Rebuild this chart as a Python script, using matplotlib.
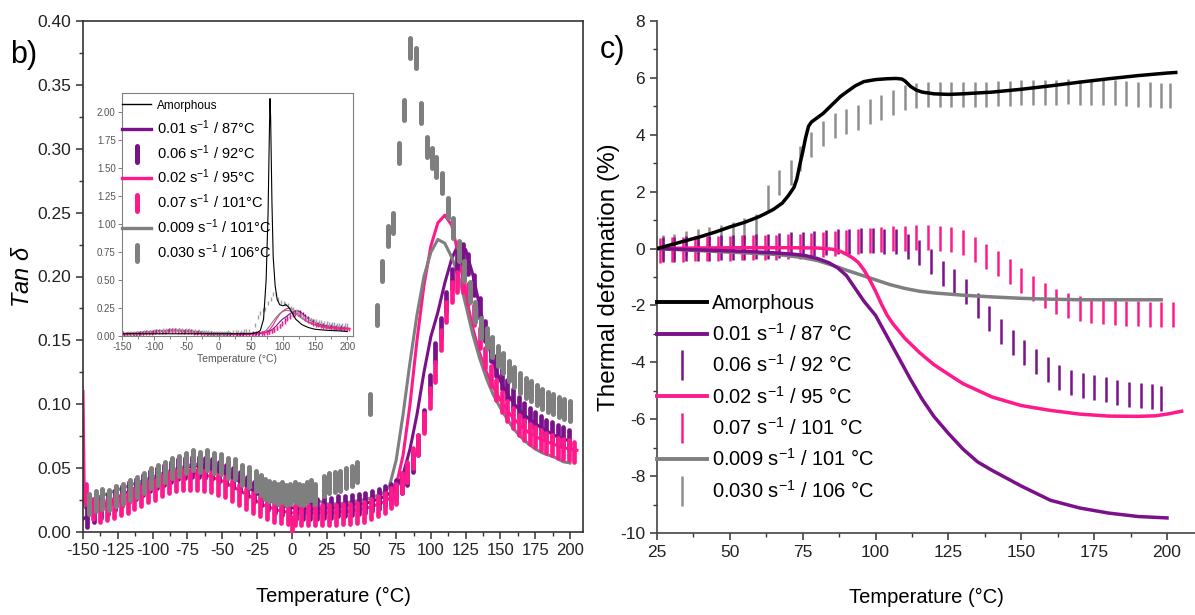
import numpy as np
import matplotlib
matplotlib.use("Agg")
import matplotlib.pyplot as plt
from matplotlib.lines import Line2D
from matplotlib.markers import MarkerStyle
from matplotlib.ticker import MultipleLocator

plt.rcParams['font.family'] = ['Liberation Sans', 'DejaVu Sans']
plt.rcParams['mathtext.fontset'] = 'custom'
plt.rcParams['mathtext.rm'] = 'Liberation Sans'
plt.rcParams['mathtext.it'] = 'Liberation Sans:italic'
plt.rcParams['mathtext.default'] = 'regular'
plt.rcParams['axes.unicode_minus'] = False

PURPLE = '#7b118a'
PINK = '#ff1a8c'
GREY = '#7f7f7f'
GREY_C = '#8e8e8e'

# ---------------- panel b : tan delta ----------------
t_line = np.arange(-150, 201, 5)
tan_purple = [0.010, 0.014, 0.018, 0.021, 0.024, 0.027, 0.030, 0.033, 0.036, 0.039,
              0.042, 0.044, 0.046, 0.048, 0.050, 0.051, 0.052, 0.051, 0.050, 0.049,
              0.047, 0.044, 0.041, 0.038, 0.034, 0.030, 0.027, 0.024, 0.022, 0.020,
              0.019, 0.018, 0.018, 0.018, 0.018, 0.019, 0.019, 0.020, 0.021, 0.022,
              0.022, 0.023, 0.025, 0.027, 0.030, 0.034, 0.045, 0.065, 0.092, 0.125,
              0.153, 0.172, 0.195, 0.214, 0.226, 0.221, 0.202, 0.177, 0.152, 0.132,
              0.118, 0.108, 0.100, 0.094, 0.089, 0.085, 0.081, 0.078, 0.075, 0.073, 0.071]
tan_grey = [0.020, 0.024, 0.027, 0.029, 0.031, 0.033, 0.035, 0.037, 0.039, 0.041,
            0.043, 0.045, 0.047, 0.049, 0.050, 0.052, 0.053, 0.053, 0.052, 0.051,
            0.049, 0.047, 0.044, 0.041, 0.038, 0.035, 0.033, 0.031, 0.030, 0.030,
            0.029, 0.029, 0.029, 0.028, 0.024, 0.022, 0.022, 0.022, 0.023, 0.024,
            0.025, 0.026, 0.028, 0.030, 0.035, 0.056, 0.092, 0.133, 0.170, 0.200,
            0.219, 0.229, 0.226, 0.215, 0.200, 0.178, 0.155, 0.136, 0.120, 0.107,
            0.097, 0.088, 0.080, 0.074, 0.069, 0.065, 0.062, 0.060, 0.058, 0.055, 0.054]
t_pink = [-150, -149] + list(range(-145, 206, 5))
tan_pink = [0.110, 0.020, 0.015, 0.018, 0.020, 0.022, 0.024, 0.026, 0.029, 0.031, 0.034,
            0.036, 0.039, 0.041, 0.043, 0.044, 0.045, 0.046, 0.045, 0.044, 0.042,
            0.040, 0.037, 0.034, 0.031, 0.028, 0.024, 0.021, 0.019, 0.017, 0.016,
            0.015, 0.015, 0.015, 0.015, 0.015, 0.015, 0.015, 0.016, 0.016, 0.017,
            0.018, 0.019, 0.021, 0.023, 0.026, 0.036, 0.060, 0.100, 0.150, 0.193,
            0.224, 0.242, 0.248, 0.240, 0.216, 0.186, 0.160, 0.140, 0.125, 0.113,
            0.103, 0.095, 0.088, 0.083, 0.078, 0.075, 0.072, 0.070, 0.068, 0.066,
            0.065, 0.064]

t_pmark = list(range(-147, 64, 5)) + list(range(67, 200, 4))
tan_pmark = [0.012, 0.016, 0.019, 0.022, 0.025, 0.028, 0.031, 0.034, 0.037, 0.040,
             0.042, 0.045, 0.047, 0.049, 0.050, 0.051, 0.051, 0.050, 0.049, 0.047,
             0.045, 0.042, 0.039, 0.035, 0.031, 0.028, 0.025, 0.023, 0.021, 0.019,
             0.018, 0.018, 0.018, 0.018, 0.019, 0.019, 0.020, 0.020, 0.021, 0.022,
             0.023, 0.024, 0.026,
             0.028, 0.030, 0.033, 0.038, 0.045, 0.055, 0.068, 0.088, 0.115, 0.140,
             0.160, 0.180, 0.198, 0.212, 0.218, 0.210, 0.193, 0.175, 0.157, 0.142,
             0.130, 0.120, 0.111, 0.104, 0.098, 0.093, 0.089, 0.086, 0.083, 0.080,
             0.078, 0.076, 0.074, 0.072]
t_kmark = list(range(-148, 68, 5)) + [0] + list(range(71, 204, 4))
tan_kmark = [0.030, 0.018, 0.016, 0.017, 0.019, 0.021, 0.023, 0.026, 0.028, 0.031,
             0.033, 0.036, 0.038, 0.040, 0.041, 0.041, 0.041, 0.040, 0.039, 0.037,
             0.035, 0.032, 0.029, 0.026, 0.023, 0.020, 0.018, 0.016, 0.015, 0.014,
             0.013, 0.013, 0.013, 0.013, 0.013, 0.013, 0.013, 0.014, 0.014, 0.015,
             0.016, 0.018, 0.020, 0.023, 0.004,
             0.027, 0.030, 0.038, 0.047, 0.058, 0.068, 0.085, 0.105, 0.125, 0.150,
             0.172, 0.188, 0.196, 0.196, 0.186, 0.170, 0.152, 0.136, 0.122, 0.111,
             0.102, 0.095, 0.089, 0.084, 0.080, 0.077, 0.074, 0.072, 0.070, 0.068,
             0.066, 0.065, 0.064, 0.063]
t_gmark = [-146, -141, -136, -131, -126, -121, -116, -111, -106, -101, -96, -91, -86,
           -81, -76, -71, -66, -61, -56, -51, -46, -41, -36, -31, -26, -22, -19, -16,
           -13, -10, -7, -4, -1, 2, 5, 8, 11, 14, 17,
           23, 27, 31, 35, 39, 43, 47, 56, 61, 65, 69, 73, 77, 81, 85, 89, 93, 97,
           101, 104, 108, 112, 116, 120, 124, 128, 132, 136, 140, 144, 148, 152, 156,
           160, 164, 168, 172, 176, 180, 184, 188, 192, 196, 200]
tan_gmark = [0.022, 0.024, 0.026, 0.025, 0.028, 0.030, 0.033, 0.035, 0.038, 0.042,
             0.045, 0.047, 0.050, 0.052, 0.054, 0.056, 0.055, 0.056, 0.054, 0.053,
             0.050, 0.049, 0.045, 0.043, 0.040, 0.037, 0.034, 0.032, 0.031, 0.030,
             0.031, 0.029, 0.030, 0.031, 0.030, 0.029, 0.031, 0.033, 0.030,
             0.036, 0.038, 0.039, 0.040, 0.042, 0.044, 0.047, 0.100, 0.170, 0.204,
             0.232, 0.242, 0.297, 0.330, 0.379, 0.371, 0.328, 0.301, 0.293, 0.286,
             0.273, 0.254, 0.238, 0.220, 0.204, 0.188, 0.172, 0.160, 0.152, 0.145,
             0.138, 0.132, 0.126, 0.121, 0.117, 0.113, 0.110, 0.107, 0.104, 0.102,
             0.100, 0.098, 0.096, 0.095]

# inset: amorphous tan delta
t_amor = [-150, -100, -50, 0, 50, 60, 65, 70, 74, 77, 79, 80, 81, 83, 85, 88, 91, 95,
          100, 105, 110, 115, 120, 130, 140, 150, 170, 190, 200]
tan_amor = [0.02, 0.02, 0.02, 0.02, 0.02, 0.03, 0.05, 0.15, 0.50, 1.10, 1.80, 2.12,
            1.95, 1.20, 0.70, 0.45, 0.33, 0.28, 0.27, 0.28, 0.25, 0.20, 0.15, 0.10,
            0.075, 0.06, 0.05, 0.045, 0.04]

# ---------------- panel c : thermal deformation ----------------
t_c_amor = [25, 30, 35, 40, 45, 50, 55, 60, 62, 65, 68, 70, 72, 73, 74, 75, 76, 77, 78,
            80, 82, 85, 88, 90, 93, 96, 100, 104, 107, 109, 110, 111, 112, 114, 116,
            120, 125, 130, 140, 150, 160, 170, 180, 190, 200, 203]
def_amor = [0.0, 0.14, 0.28, 0.42, 0.58, 0.76, 0.92, 1.12, 1.22, 1.38, 1.60, 1.85,
            2.15, 2.45, 2.95, 3.40, 3.90, 4.30, 4.45, 4.60, 4.75, 5.05, 5.35, 5.50,
            5.72, 5.87, 5.94, 5.97, 5.98, 5.96, 5.90, 5.80, 5.70, 5.57, 5.50, 5.44,
            5.42, 5.44, 5.50, 5.60, 5.72, 5.85, 5.97, 6.08, 6.17, 6.19]
t_c_purple = [25, 40, 55, 65, 72, 76, 80, 84, 87, 90, 93, 96, 100, 104, 108, 112, 116,
              120, 125, 130, 135, 140, 150, 160, 170, 180, 190, 200]
def_purple = [0.0, -0.05, -0.10, -0.15, -0.20, -0.25, -0.35, -0.50, -0.68, -0.95,
              -1.40, -1.85, -2.35, -3.10, -3.85, -4.60, -5.30, -5.90, -6.50, -7.05,
              -7.50, -7.80, -8.35, -8.85, -9.12, -9.30, -9.42, -9.47]
t_c_pink = [25, 40, 55, 70, 80, 85, 88, 90, 92, 94, 96, 98, 100, 102, 104, 106, 110,
            115, 120, 125, 130, 140, 150, 160, 170, 180, 190, 196, 200, 205]
def_pink = [0.0, 0.02, 0.03, 0.03, 0.02, -0.02, -0.10, -0.20, -0.32, -0.48, -0.75,
            -1.10, -1.50, -1.95, -2.35, -2.65, -3.15, -3.65, -4.08, -4.42, -4.75,
            -5.22, -5.52, -5.69, -5.82, -5.89, -5.90, -5.88, -5.82, -5.72]
t_c_grey = [25, 35, 45, 55, 65, 70, 75, 80, 85, 90, 95, 100, 105, 110, 115, 120, 125,
            130, 140, 150, 160, 170, 180, 190, 198]
def_grey = [0.0, -0.05, -0.10, -0.15, -0.20, -0.25, -0.32, -0.42, -0.58, -0.76, -0.93,
            -1.10, -1.27, -1.40, -1.50, -1.56, -1.60, -1.64, -1.70, -1.75, -1.78,
            -1.80, -1.80, -1.80, -1.80]

t_c_pmark = list(range(27, 196, 4)) + [198]
def_pmark = [0.0, 0.0, 0.02, 0.03, 0.03, 0.05, 0.05, 0.07, 0.08, 0.10, 0.12, 0.15,
             0.17, 0.20, 0.22, 0.25, 0.28, 0.30, 0.30, 0.28, 0.25, 0.10, -0.12, -0.45,
             -0.85, -1.15, -1.50, -2.00, -2.45, -2.90, -3.30, -3.62, -3.95, -4.25,
             -4.52, -4.70, -4.80, -4.87, -4.95, -5.03, -5.10, -5.15, -5.20, -5.25]
t_c_kmark = list(range(26, 203, 4))
def_kmark = [-0.05, 0.0, 0.0, 0.02, 0.02, 0.03, 0.03, 0.04, 0.05, 0.06, 0.07, 0.09,
             0.10, 0.12, 0.15, 0.18, 0.22, 0.26, 0.30, 0.33, 0.36, 0.38, 0.40, 0.40,
             0.37, 0.32, 0.22, 0.0, -0.25, -0.52, -0.80, -1.10, -1.38, -1.62, -1.85,
             -2.0, -2.1, -2.15, -2.2, -2.22, -2.25, -2.28, -2.3, -2.3, -2.3]
t_c_gmark = [27, 31, 35, 39, 43, 47, 51, 55, 59, 63, 67, 71, 74, 78, 82, 86, 90, 94,
             98, 102, 106, 110, 114, 118, 122, 126, 130, 134, 138, 142, 146, 150, 154,
             158, 162, 166, 170, 174, 178, 182, 186, 190, 194, 198, 201]
def_gmark = [0.05, 0.10, 0.18, 0.25, 0.33, 0.42, 0.52, 0.65, 0.80, 1.80, 2.35, 2.70,
             3.20, 3.67, 4.08, 4.36, 4.50, 4.64, 4.85, 4.98, 5.16, 5.33, 5.40, 5.45,
             5.45, 5.45, 5.45, 5.45, 5.45, 5.47, 5.48, 5.50, 5.50, 5.52, 5.52, 5.53,
             5.52, 5.52, 5.50, 5.50, 5.48, 5.45, 5.42, 5.40, 5.40]

labels_b = ['Amorphous', r'0.01 s$^{-1}$ / 87°C', r'0.06 s$^{-1}$ / 92°C',
            r'0.02 s$^{-1}$ / 95°C', r'0.07 s$^{-1}$ / 101°C',
            r'0.009 s$^{-1}$ / 101°C', r'0.030 s$^{-1}$ / 106°C']
labels_c = ['Amorphous', r'0.01 s$^{-1}$ / 87 °C', r'0.06 s$^{-1}$ / 92 °C',
            r'0.02 s$^{-1}$ / 95 °C', r'0.07 s$^{-1}$ / 101 °C',
            r'0.009 s$^{-1}$ / 101 °C', r'0.030 s$^{-1}$ / 106 °C']

W, H = 1195, 615
fig = plt.figure(figsize=(W / 100, H / 100), dpi=100)

def bar_marker():
    return MarkerStyle('|', capstyle='round')

def style_axes(ax, spine_color='#333333'):
    for s in ax.spines.values():
        s.set_color(spine_color)
        s.set_linewidth(1.2)
    ax.tick_params(which='both', direction='out', colors='#333333', labelcolor='#222222')
    ax.tick_params(which='major', length=5, width=1.1, labelsize=12.5)
    ax.tick_params(which='minor', length=3, width=1.0)

# panel b main axes
ax_b = fig.add_axes([83 / W, 83 / H, 500 / W, 511 / H])
ax_b.plot(t_line, tan_purple, color=PURPLE, lw=2.2, zorder=2)
ax_b.plot(t_pink, tan_pink, color=PINK, lw=2.2, zorder=2)
ax_b.plot(t_line, tan_grey, color=GREY, lw=2.2, zorder=2)
ax_b.plot(t_pmark, tan_pmark, ls='none', marker=bar_marker(), ms=14, mew=3.4, color=PURPLE, zorder=3)
ax_b.plot(t_kmark, tan_kmark, ls='none', marker=bar_marker(), ms=14, mew=3.4, color=PINK, zorder=3)
ax_b.plot(t_gmark, tan_gmark, ls='none', marker=bar_marker(), ms=15, mew=3.6, color=GREY, zorder=4)
ax_b.set_xlim(-150, 209.3)
ax_b.set_ylim(0, 0.40)
ax_b.xaxis.set_major_locator(MultipleLocator(25))
ax_b.xaxis.set_minor_locator(MultipleLocator(12.5))
ax_b.yaxis.set_major_locator(MultipleLocator(0.05))
ax_b.yaxis.set_minor_locator(MultipleLocator(0.025))
ax_b.yaxis.set_major_formatter(matplotlib.ticker.FormatStrFormatter('%.2f'))
style_axes(ax_b)
ax_b.tick_params(axis='x', which='major', labelsize=12, pad=3)
ax_b.set_xlabel('Temperature (°C)', fontsize=14.5, labelpad=21)
ax_b.set_ylabel(r'Tan $\delta$', fontsize=17, style='italic', labelpad=2)
fig.text(10 / W, 1 - 63 / H, 'b)', fontsize=22, va='baseline', ha='left')

# inset
ax_i = fig.add_axes([122 / W, (H - 336) / H, 231 / W, 243 / H])
ax_i.plot(t_line, tan_purple, color=PURPLE, lw=0.8)
ax_i.plot(t_pink, tan_pink, color=PINK, lw=0.8)
ax_i.plot(t_line, tan_grey, color=GREY, lw=0.8)
ax_i.plot(t_pmark, tan_pmark, ls='none', marker='|', ms=3, mew=1.0, color=PURPLE)
ax_i.plot(t_kmark, tan_kmark, ls='none', marker='|', ms=3, mew=1.0, color=PINK)
ax_i.plot(t_gmark, tan_gmark, ls='none', marker='|', ms=3, mew=1.0, color='#a0a0a0')
ax_i.plot(t_amor, tan_amor, color='black', lw=0.8)
ax_i.set_xlim(-150, 209)
ax_i.set_ylim(0, 2.17)
ax_i.xaxis.set_major_locator(MultipleLocator(50))
ax_i.xaxis.set_minor_locator(MultipleLocator(25))
ax_i.yaxis.set_major_locator(MultipleLocator(0.25))
ax_i.yaxis.set_major_formatter(matplotlib.ticker.FormatStrFormatter('%.2f'))
for s in ax_i.spines.values():
    s.set_color('#808080')
    s.set_linewidth(0.8)
ax_i.tick_params(which='both', direction='out', colors='#808080', labelcolor='#555555',
                 labelsize=7, width=0.7)
ax_i.tick_params(which='major', length=3, pad=1.5)
ax_i.tick_params(which='minor', length=2)
ax_i.set_xlabel('Temperature (°C)', fontsize=7.5, color='#555555', labelpad=1)

hb = [Line2D([], [], color='black', lw=1.0),
      Line2D([], [], color=PURPLE, lw=2.4),
      Line2D([], [], ls='none', marker=bar_marker(), ms=12, mew=3.6, color=PURPLE),
      Line2D([], [], color=PINK, lw=2.4),
      Line2D([], [], ls='none', marker=bar_marker(), ms=12, mew=3.6, color=PINK),
      Line2D([], [], color=GREY, lw=2.4),
      Line2D([], [], ls='none', marker=bar_marker(), ms=12, mew=3.6, color=GREY)]
leg_i = ax_i.legend(hb, labels_b, loc='upper left', bbox_to_anchor=(0.0, 0.975),
                    frameon=False, fontsize=10.5, handlelength=2.0, handletextpad=0.4,
                    labelspacing=0.42, borderaxespad=0, borderpad=0)
leg_i.get_texts()[0].set_fontsize(8.5)

# panel c
ax_c = fig.add_axes([657 / W, 82 / H, 538 / W, 512 / H])
ax_c.plot(t_c_gmark, def_gmark, ls='none', marker='|', ms=18, mew=1.8, color=GREY_C, zorder=2)
ax_c.plot(t_c_pmark, def_pmark, ls='none', marker='|', ms=18, mew=1.8, color=PURPLE, zorder=2)
ax_c.plot(t_c_kmark, def_kmark, ls='none', marker='|', ms=18, mew=1.8, color=PINK, zorder=2)
ax_c.plot(t_c_grey, def_grey, color=GREY, lw=2.5, zorder=3)
ax_c.plot(t_c_pink, def_pink, color=PINK, lw=2.5, zorder=3)
ax_c.plot(t_c_purple, def_purple, color=PURPLE, lw=2.5, zorder=3)
ax_c.plot(t_c_amor, def_amor, color='black', lw=2.5, zorder=4)
ax_c.set_xlim(25, 209.6)
ax_c.set_ylim(-10, 8)
ax_c.xaxis.set_major_locator(MultipleLocator(25))
ax_c.xaxis.set_minor_locator(MultipleLocator(12.5))
ax_c.yaxis.set_major_locator(MultipleLocator(2))
ax_c.yaxis.set_minor_locator(MultipleLocator(1))
style_axes(ax_c, spine_color='#444444')
ax_c.spines['top'].set_visible(False)
ax_c.spines['right'].set_visible(False)
ax_c.set_xlabel('Temperature (°C)', fontsize=14.5, labelpad=20)
ax_c.set_ylabel('Thermal deformation (%)', fontsize=17.5, labelpad=0)
fig.text(600 / W, 1 - 58 / H, 'c)', fontsize=22, va='baseline', ha='left')

hc = [Line2D([], [], color='black', lw=2.8),
      Line2D([], [], color=PURPLE, lw=2.8),
      Line2D([], [], ls='none', marker='|', ms=21, mew=1.8, color=PURPLE),
      Line2D([], [], color=PINK, lw=2.8),
      Line2D([], [], ls='none', marker='|', ms=21, mew=1.8, color=PINK),
      Line2D([], [], color=GREY, lw=2.8),
      Line2D([], [], ls='none', marker='|', ms=21, mew=1.8, color=GREY_C)]
ax_c.legend(hc, labels_c, loc='upper left', bbox_to_anchor=(0.0, 0.466),
            frameon=False, fontsize=14.5, handlelength=2.5, handletextpad=0.25,
            labelspacing=0.47, borderaxespad=0, borderpad=0)

fig.savefig('out.png', dpi=100)
